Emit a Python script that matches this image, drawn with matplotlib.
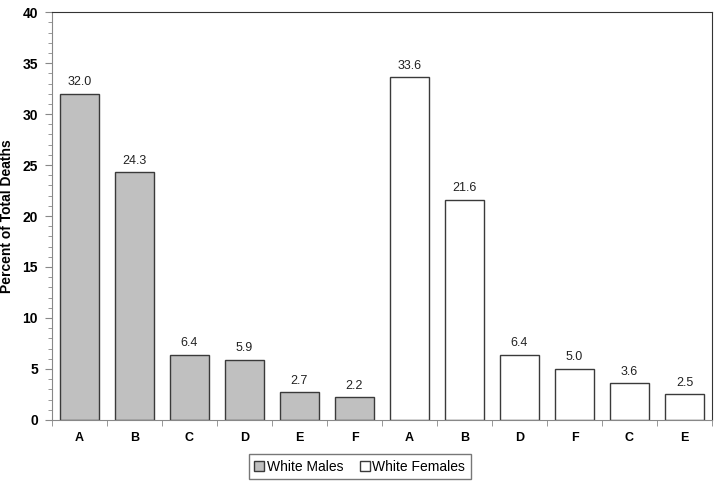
import matplotlib.pyplot as plt
import numpy as np
from matplotlib.ticker import MultipleLocator, FixedLocator
from matplotlib.patches import Patch

# data
male_labels = ["A", "B", "C", "D", "E", "F"]
male_values = [32.0, 24.3, 6.4, 5.9, 2.7, 2.2]
female_labels = ["A", "B", "D", "F", "C", "E"]
female_values = [33.6, 21.6, 6.4, 5.0, 3.6, 2.5]

plt.rcParams['font.family'] = ['Liberation Sans', 'DejaVu Sans']

fig = plt.figure(figsize=(7.21, 4.86), dpi=100)
ax = fig.add_axes([0.072, 0.136, 0.9155, 0.839])

n_m = len(male_values)
n_f = len(female_values)
x_m = np.arange(n_m)
x_f = np.arange(n_m, n_m + n_f)

edge = "#3a3a3a"
ax.bar(x_m, male_values, width=0.7, color="#c0c0c0", edgecolor=edge, linewidth=1.0)
ax.bar(x_f, female_values, width=0.7, color="white", edgecolor=edge, linewidth=1.0)

for xs, vals in ((x_m, male_values), (x_f, female_values)):
    for xi, v in zip(xs, vals):
        ax.text(xi, v + 0.55, f"{v:.1f}", ha="center", va="bottom", fontsize=9, color="#222222")

ax.set_xlim(-0.5, n_m + n_f - 0.5)
ax.set_ylim(0, 40)

ax.set_xticks(np.concatenate([x_m, x_f]))
ax.set_xticklabels(male_labels + female_labels, fontweight="bold", fontsize=9)
ax.xaxis.set_minor_locator(FixedLocator(np.arange(-0.5, n_m + n_f, 1.0)))
ax.tick_params(axis="x", which="major", length=0, pad=9)
ax.tick_params(axis="x", which="minor", length=4, color="#888888", direction="out")

ax.yaxis.set_major_locator(MultipleLocator(5))
ax.yaxis.set_minor_locator(MultipleLocator(1))
ax.tick_params(axis="y", which="major", length=5, color="#888888", labelsize=10, pad=5)
ax.tick_params(axis="y", which="minor", length=3, color="#888888")
for lbl in ax.get_yticklabels():
    lbl.set_fontweight("bold")

ax.set_ylabel("Percent of Total Deaths", fontweight="bold", fontsize=10)
ax.yaxis.set_label_coords(-0.058, 0.5)

ax.spines["left"].set_color("#888888")
ax.spines["bottom"].set_color("#888888")
ax.spines["top"].set_color("#333333")
ax.spines["right"].set_color("#333333")

handles = [Patch(facecolor="#c0c0c0", edgecolor=edge, label="White Males"),
           Patch(facecolor="white", edgecolor=edge, label="White Females")]
leg = fig.legend(handles=handles, loc="center", bbox_to_anchor=(0.499, 0.04), ncol=2,
                 fontsize=10, frameon=True, fancybox=False, edgecolor="#555555",
                 handlelength=0.7, handleheight=0.7, handletextpad=0.2, columnspacing=1.2,
                 borderpad=0.4)
leg.get_frame().set_linewidth(1.0)

fig.savefig("out.png", dpi=100)
